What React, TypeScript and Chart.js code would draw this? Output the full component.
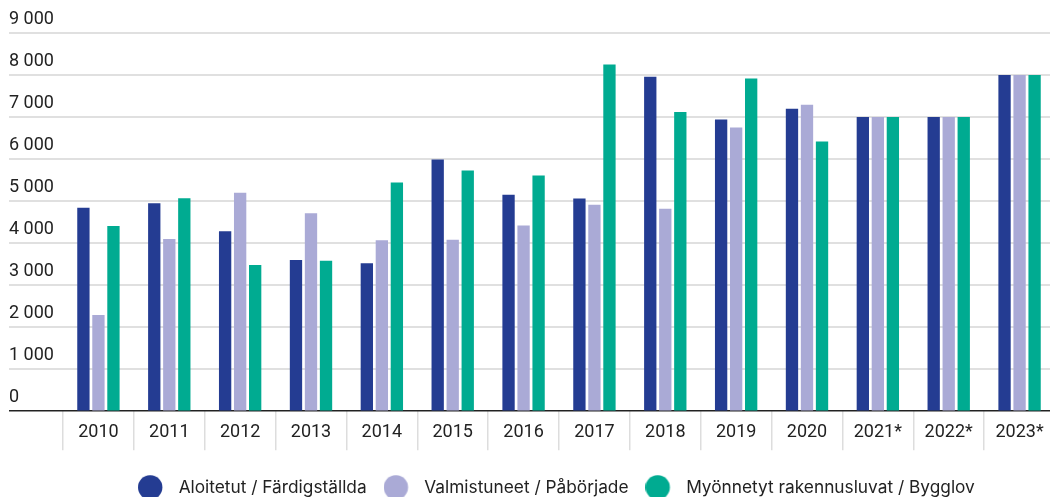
import React, { useEffect, useRef } from "react";
import { Chart, registerables } from "chart.js";

Chart.register(...registerables);

const categories = ["2010", "2011", "2012", "2013", "2014", "2015", "2016", "2017", "2018", "2019", "2020", "2021*", "2022*", "2023*"];
const aloitetut = [4840, 4950, 4280, 3600, 3520, 5990, 5150, 5060, 7960, 6940, 7200, 7000, 7000, 8000];
const valmistuneet = [2290, 4100, 5200, 4710, 4070, 4080, 4420, 4910, 4820, 6750, 7290, 7000, 7000, 8000];
const myonnetyt = [4410, 5070, 3480, 3580, 5440, 5730, 5610, 8250, 7120, 7920, 6420, 7000, 7000, 8000];
const seriesLabels = ["Aloitetut / Färdigställda", "Valmistuneet / Påbörjade", "Myönnetyt rakennusluvat / Bygglov"];
const seriesColors = ["#243c92", "#aaaad6", "#00ab91"];
const yMax = 9000;
const yStep = 1000;

const FONT = "Roboto, 'Noto Sans', sans-serif";
const LEGEND_FONT = "Inter, Roboto, sans-serif";

function formatThousands(v: number): string {
  const s = String(Math.round(v));
  return s.replace(/\B(?=(\d{3})+(?!\d))/g, " ");
}

function makeDot(color: string): HTMLCanvasElement {
  const c = document.createElement("canvas");
  c.width = 32;
  c.height = 25;
  const ctx = c.getContext("2d")!;
  ctx.fillStyle = color;
  ctx.beginPath();
  ctx.arc(12.2, 12.5, 12.2, 0, Math.PI * 2);
  ctx.fill();
  return c;
}

export default function App() {
  const ref = useRef<HTMLCanvasElement | null>(null);

  useEffect(() => {
    if (!ref.current) return;
    const dots = seriesColors.map(makeDot);
    const legendShift = {
      id: "legendShift",
      afterLayout(chart: any) {
        const lg = chart.legend;
        if (lg) {
          const w = lg.right - lg.left;
          lg.left = 121;
          lg.right = 121 + w;
        }
      },
    };
    const chart = new Chart(ref.current, {
      type: "bar",
      data: {
        labels: categories,
        datasets: [aloitetut, valmistuneet, myonnetyt].map((d, i) => ({
          label: seriesLabels[i],
          data: d,
          backgroundColor: seriesColors[i],
          borderWidth: 0,
          categoryPercentage: 0.636,
          barPercentage: 0.82,
        })),
      },
      options: {
        responsive: false,
        animation: false,
        layout: { padding: { left: 9, right: 1, top: 33, bottom: 0 } },
        plugins: {
          tooltip: { enabled: false },
          legend: {
            position: "bottom",
            align: "start",
            labels: {
              usePointStyle: true,
              pointStyleWidth: 32,
              padding: 17,
              color: "#222",
              font: { family: LEGEND_FONT, size: 17.3 },
              generateLabels(chart: any) {
                const items = Chart.defaults.plugins.legend.labels.generateLabels(chart);
                return items.map((it: any, i: number) => ({ ...it, pointStyle: dots[i], lineWidth: 0, strokeStyle: "transparent" }));
              },
            },
          },
        },
        scales: {
          x: {
            offset: true,
            border: { display: false },
            grid: {
              offset: true,
              drawOnChartArea: false,
              tickLength: 39,
              color: "#dddddd",
              lineWidth: 1.5,
            },
            ticks: {
              color: "#222",
              font: { family: FONT, size: 18 },
              padding: -29,
              maxRotation: 0,
            },
            afterFit(scale: any) {
              scale.height = 50.5;
            },
          },
          y: {
            min: 0,
            max: yMax,
            border: { display: false },
            grid: {
              tickLength: 54,
              lineWidth: (ctx: any) => (ctx.tick && ctx.tick.value === 0 ? 1.5 : 2),
              color: (ctx: any) => (ctx.tick && ctx.tick.value === 0 ? "#222" : "#e0e0e0"),
              tickColor: (ctx: any) => (ctx.tick && ctx.tick.value === 0 ? "#222" : "#e0e0e0"),
            },
            ticks: {
              stepSize: yStep,
              crossAlign: "far",
              labelOffset: -14,
              padding: 0,
              color: "#222",
              font: { family: FONT, size: 18 },
              callback: (v: any) => formatThousands(Number(v)),
            },
            afterFit(scale: any) {
              scale.width = 54;
            },
          },
        },
      },
      plugins: [legendShift],
    } as any);
    return () => chart.destroy();
  }, []);

  return (
    <div style={{ position: "absolute", left: 0, top: 0, width: 1050, height: 497, overflow: "hidden", background: "#fff" }}>
      <canvas ref={ref} width={1056} height={506} style={{ width: 1056, height: 506, display: "block" }} />
    </div>
  );
}
